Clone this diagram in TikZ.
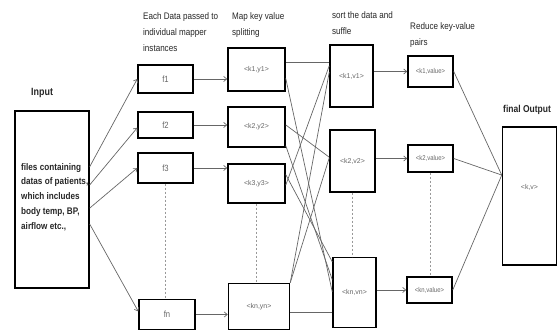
\documentclass[tikz,border=0pt]{standalone}
\usepackage{fontspec}
\setmainfont{Liberation Sans}
\newfontfamily\condfont{Liberation Sans}[FakeStretch=0.85]
\usetikzlibrary{calc,arrows.meta}
\begin{document}
\begin{tikzpicture}[x=1pt,y=-1pt,
 box/.style={draw=black,line width=1.5pt,inner sep=0pt,font=\fontsize{7}{8}\selectfont,text=black!60},
 fbox/.style={box,font=\condfont\fontsize{9}{10}\selectfont},
 rbox/.style={box,font=\condfont\fontsize{7}{8}\selectfont},
 lbl/.style={anchor=north west,inner sep=0pt,align=left,font=\condfont\fontsize{9.5}{16}\selectfont,text=black!85},
 conn/.style={draw=black!60,line width=0.7pt},
 arr/.style={conn,-{Straight Barb[length=3pt,width=5pt]}},
 dots/.style={draw=black!40,line width=0.7pt,dash pattern=on 2pt off 2pt}]
\useasboundingbox (0,0) rectangle (558,331);
% boxes
\node[box,minimum width=74pt,minimum height=177pt] (inp) at (52,199.5) {};
\node[fbox,minimum width=55pt,minimum height=28pt] (f1) at (165.5,79) {f1};
\node[fbox,minimum width=55pt,minimum height=26pt] (f2) at (165.5,125) {f2};
\node[fbox,minimum width=55pt,minimum height=30pt] (f3) at (165.5,168) {f3};
\node[fbox,minimum width=56pt,minimum height=30pt] (fn) at (167,314.5) {fn};
\node[box,minimum width=57pt,minimum height=43pt] (m1) at (256.5,69.5) {<k1,y1>};
\node[box,minimum width=57pt,minimum height=40pt] (m2) at (256.5,127) {<k2,y2>};
\node[box,minimum width=57pt,minimum height=39pt] (m3) at (256.5,183.5) {<k3,y3>};
\node[box,minimum width=61pt,minimum height=46pt] (mn) at (259,306.5) {<kn,yn>};
\node[box,minimum width=43pt,minimum height=62pt] (s1) at (351.5,76) {<k1,v1>};
\node[box,minimum width=45pt,minimum height=62pt] (s2) at (352.5,161) {<k2,v2>};
\node[box,minimum width=43pt,minimum height=70pt] (sn) at (354.5,292.5) {<kn,vn>};
\node[rbox,minimum width=45pt,minimum height=31pt] (r1) at (430.5,71.5) {<k1,value>};
\node[rbox,minimum width=45pt,minimum height=27pt] (r2) at (430.5,158.5) {<k2,value>};
\node[rbox,minimum width=45pt,minimum height=26pt] (rn) at (429.5,290) {<kn,value>};
\node[box,minimum width=54pt,minimum height=138pt] (out) at (529.5,196) {};
\node[inner sep=0pt,font=\fontsize{7}{8}\selectfont,text=black!60] (outtxt) at ($(out.center)+(0,-9)$) {<k,v>};
% labels
\node[lbl,font=\condfont\fontsize{10.5}{12}\selectfont\bfseries] (linput) at (31,88) {Input};
\node[lbl,font=\condfont\fontsize{9.6}{14.8}\selectfont\bfseries] (intext) at (21,163) {files containing\\datas of patients,\\which includes\\body temp, BP,\\airflow etc.,};
\node[lbl] (lmap) at (143,12) {Each Data passed to\\individual mapper\\instances};
\node[lbl] (lsplit) at (232,12) {Map key value\\splitting};
\node[lbl] (lsort) at (332,11) {sort the data and\\suffle};
\node[lbl] (lred) at (410,22) {Reduce key-value\\pairs};
\node[lbl,font=\condfont\fontsize{10}{12}\selectfont\bfseries] (lout) at (503,105) {final Output};
% input to mappers
\draw[arr] ($(inp.north east)!0.316!(inp.south east)$) -- (f1.west);
\draw[arr] ($(inp.north east)!0.418!(inp.south east)$) -- ($(f2.north west)!0.6!(f2.south west)$);
\draw[arr] ($(inp.north east)!0.548!(inp.south east)$) -- (f3.west);
\draw[arr] ($(inp.north east)!0.638!(inp.south east)$) -- ($(fn.north west)!0.4!(fn.south west)$);
% mappers to map boxes
\draw[arr] (f1.east) -- (f1.east -| m1.west);
\draw[arr] (f2.east) -- (f2.east -| m2.west);
\draw[arr] (f3.east) -- (f3.east -| m3.west);
\draw[arr] (fn.east) -- (fn.east -| mn.west);
% shuffle
\coordinate (m1a) at ($(m1.north east)!0.35!(m1.south east)$);
\draw[conn] (m1a) -- (m1a -| s1.west);
\draw[conn] ($(m1.north east)!0.70!(m1.south east)$) -- ($(sn.north west)!0.49!(sn.south west)$);
\draw[conn] ($(m2.north east)!0.45!(m2.south east)$) -- ($(s2.north west)!0.44!(s2.south west)$);
\draw[conn] ($(m2.north east)!0.95!(m2.south east)$) -- ($(sn.north west)!0.32!(sn.south west)$);
\draw[conn] ($(m3.north east)!0.28!(m3.south east)$) -- ($(sn.north west)!0.07!(sn.south west)$);
\draw[conn] ($(m3.north east)!0.54!(m3.south east)$) -- ($(s1.north west)!0.34!(s1.south west)$);
\draw[conn] (mn.north east) -- ($(s1.north west)!0.44!(s1.south west)$);
\draw[conn] (mn.north east) -- ($(s2.north west)!0.45!(s2.south west)$);
\coordinate (mna) at ($(mn.north east)!0.62!(mn.south east)$);
\draw[conn] (mna) -- (mna -| sn.west);
% sort to reduce
\draw[arr] (r1.west -| s1.east) -- (r1.west);
\draw[arr] (r2.west -| s2.east) -- (r2.west);
\draw[arr] (rn.west -| sn.east) -- (rn.west);
% reduce to output
\coordinate (oc) at ($(out.north west)!0.35!(out.south west)$);
\draw[conn] (r1.east) -- (oc);
\draw[conn] (r2.east) -- (oc);
\draw[conn] (rn.east) -- (oc);
% dotted continuation lines
\draw[dots] (f3.south) -- (f3.south |- fn.north);
\draw[dots] (m3.south) -- (m3.south |- mn.north);
\draw[dots] (s2.south) -- (s2.south |- sn.north);
\draw[dots] (r2.south) -- (r2.south |- rn.north);
\end{tikzpicture}
\end{document}
